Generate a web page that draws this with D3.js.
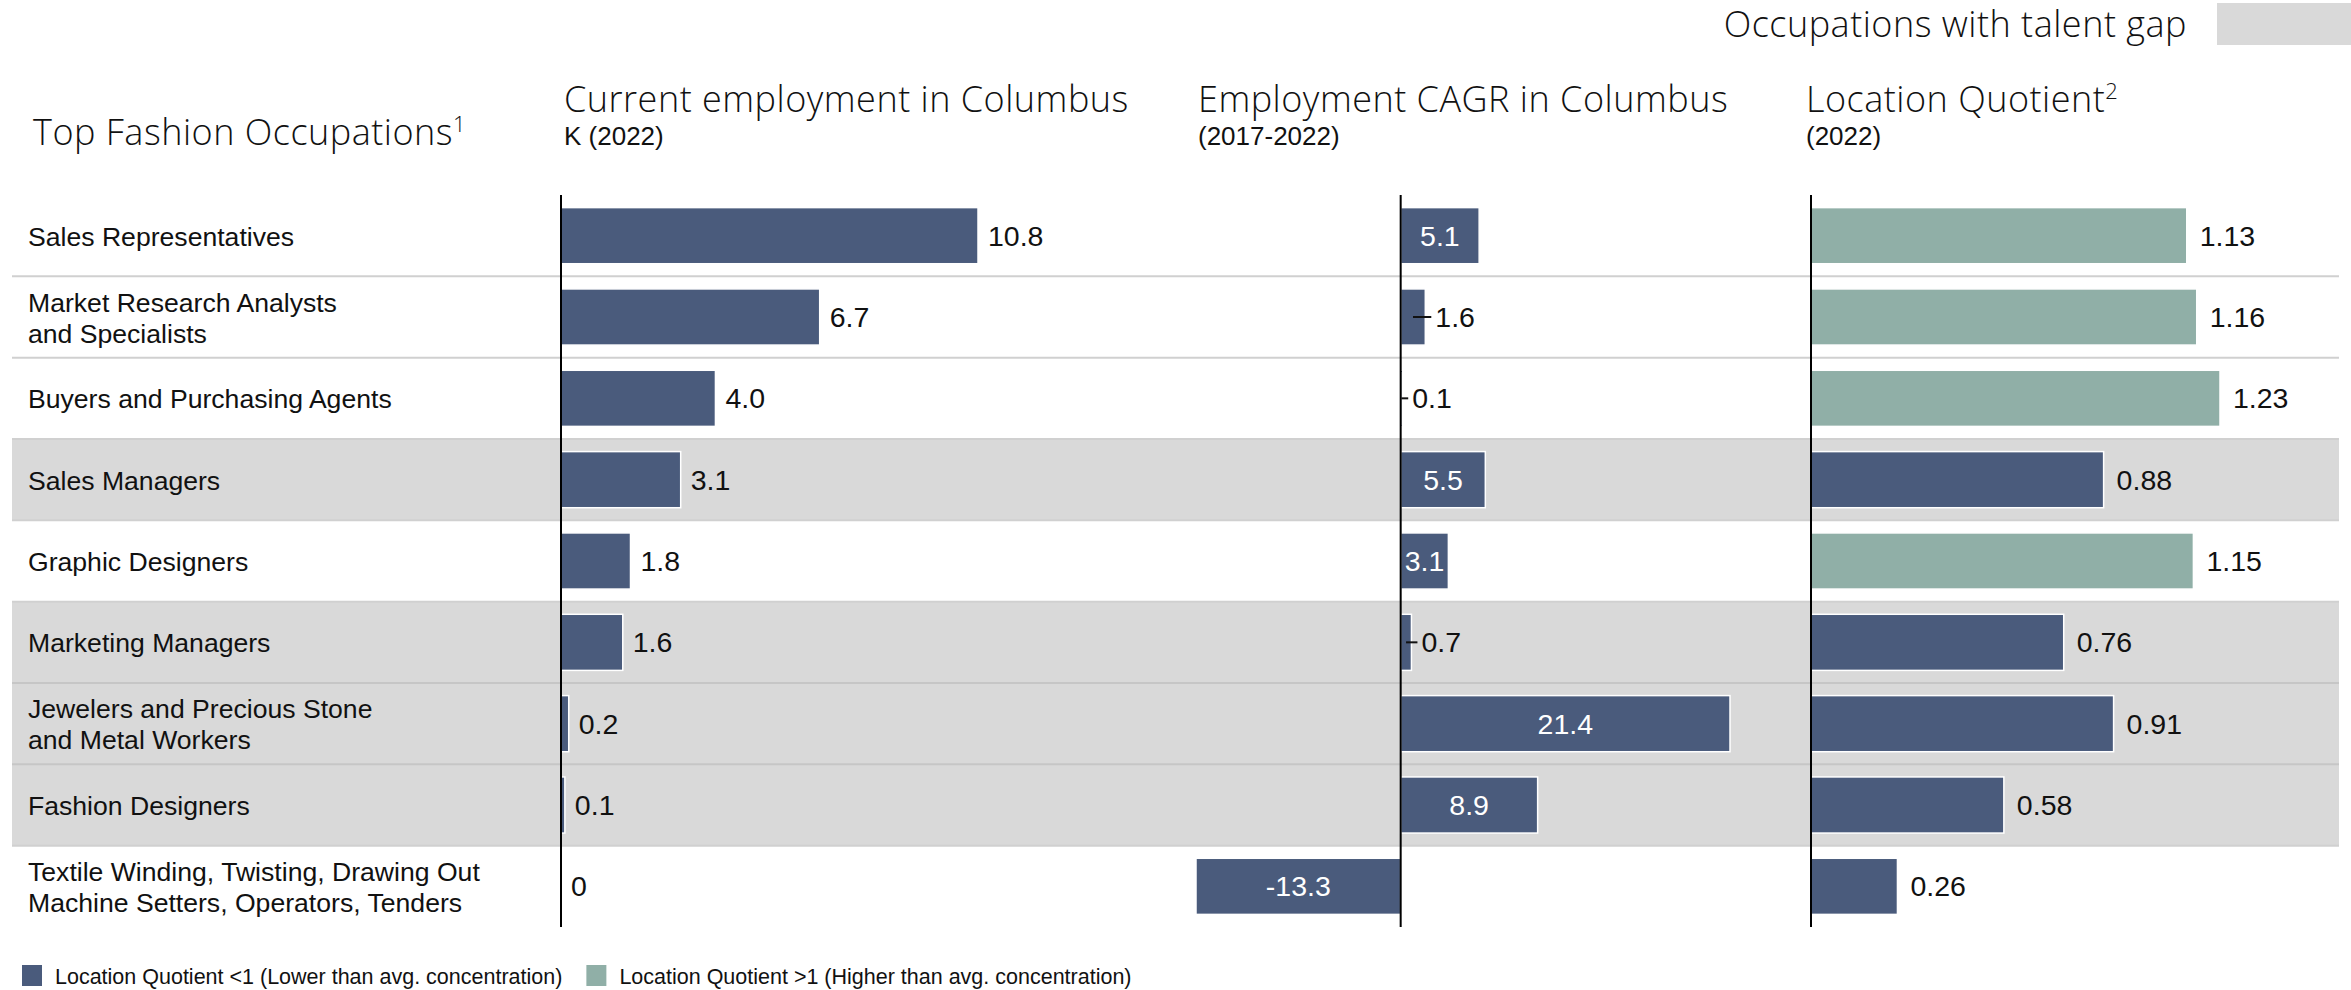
<!DOCTYPE html>
<html>
<head>
<meta charset="utf-8">
<script src="https://cdn.jsdelivr.net/npm/d3@7"></script>
<style>
  html, body { margin: 0; padding: 0; background: #ffffff; }
  svg { display: block; }
</style>
</head>
<body>
<svg id="chart" width="2351" height="990"></svg>
<script>
// Top fashion occupations in Columbus: employment, growth and location quotient
const occupations = [
  "Sales Representatives",
  "Market Research Analysts\nand Specialists",
  "Buyers and Purchasing Agents",
  "Sales Managers",
  "Graphic Designers",
  "Marketing Managers",
  "Jewelers and Precious Stone\nand Metal Workers",
  "Fashion Designers",
  "Textile Winding, Twisting, Drawing Out\nMachine Setters, Operators, Tenders"
];
const employmentK = [10.8, 6.7, 4.0, 3.1, 1.8, 1.6, 0.2, 0.1, 0];
const cagrPct = [5.1, 1.6, 0.1, 5.5, 3.1, 0.7, 21.4, 8.9, -13.3];
const locationQuotient = [1.13, 1.16, 1.23, 0.88, 1.15, 0.76, 0.91, 0.58, 0.26];
const talentGap = [false, false, false, true, false, true, true, true, false];

const legendItems = [
  { label: "Location Quotient <1 (Lower than avg. concentration)", key: "low" },
  { label: "Location Quotient >1 (Higher than avg. concentration)", key: "high" }
];

const COLOR_DARK = "#4a5b7c";
const COLOR_GREEN = "#90afa7";
const GAP_FILL = "#d9d9d9";
const HEAD_FONT = "'Open Sans', Lato, 'Noto Sans', sans-serif";
const HEAD_SIZE = "36px";
const HEAD_SPACING = "0.5px";
const BODY_FONT = "'Liberation Sans', Arial, sans-serif";

// Plain hyphen for negative numbers
const locale = d3.formatLocale({ decimal: ".", thousands: ",", grouping: [3], currency: ["", ""], minus: "-" });
const fmt1 = locale.format(".1f");
const fmt2 = locale.format(".2f");

const svg = d3.select("#chart");

const rows = occupations.map((name, i) => ({
  name, i,
  emp: employmentK[i],
  cagr: cagrPct[i],
  lq: locationQuotient[i],
  gap: talentGap[i]
}));

// Vertical layout shared by all three panels
const y = d3.scaleBand().domain(d3.range(rows.length)).range([195, 927]).paddingInner(0).paddingOuter(0);
const barH = y.bandwidth() * 0.69;
const yc = i => y(i) + y.bandwidth() / 2;

// Horizontal scales for each panel
const xEmp = d3.scaleLinear().domain([0, 10.8]).range([561, 978]);
const xCagr = d3.scaleLinear().domain([-13.3, 21.4]).range([1196, 1730]);
const xLq = d3.scaleLinear().domain([0, 1.23]).range([1811, 2220]);

// ---- Header legend: talent gap swatch
svg.append("text")
  .attr("x", 2187).attr("y", 37)
  .attr("text-anchor", "end")
  .style("font-family", HEAD_FONT).style("font-weight", 300)
  .style("font-size", HEAD_SIZE).style("letter-spacing", HEAD_SPACING).style("fill", "#111")
  .text("Occupations with talent gap");
svg.append("rect")
  .attr("x", 2217).attr("y", 3).attr("width", 134).attr("height", 42)
  .attr("fill", GAP_FILL);

// ---- Column headings
function heading(x, yBase, title, sup, sub) {
  const t = svg.append("text")
    .attr("x", x).attr("y", yBase)
    .style("font-family", HEAD_FONT).style("font-weight", 300)
    .style("font-size", HEAD_SIZE).style("letter-spacing", HEAD_SPACING).style("fill", "#111");
  t.append("tspan").text(title);
  if (sup) t.append("tspan").attr("dy", -13).style("font-size", "22px").text(sup);
  if (sub) {
    svg.append("text")
      .attr("x", x).attr("y", 145)
      .style("font-family", BODY_FONT).style("font-size", "26px").style("fill", "#111")
      .text(sub);
  }
}
heading(33, 145, "Top Fashion Occupations", "1", null);
heading(564, 112, "Current employment in Columbus", null, "K (2022)");
heading(1198, 112, "Employment CAGR in Columbus", null, "(2017-2022)");
heading(1806, 112, "Location Quotient", "2", "(2022)");

// ---- Row backgrounds for occupations with a talent gap
const rowX0 = 12, rowX1 = 2339;
svg.append("g").selectAll("rect")
  .data(rows.filter(d => d.gap))
  .join("rect")
  .attr("x", rowX0).attr("width", rowX1 - rowX0)
  .attr("y", d => y(d.i)).attr("height", y.bandwidth())
  .attr("fill", GAP_FILL);

// Row separators
svg.append("g").selectAll("line")
  .data(d3.range(1, rows.length))
  .join("line")
  .attr("x1", rowX0).attr("x2", rowX1)
  .attr("y1", i => y(i)).attr("y2", i => y(i))
  .attr("stroke", i => (rows[i].gap && rows[i - 1].gap) ? "#c6c6c6" : "#d0d0d0")
  .attr("stroke-width", 2);

// ---- Row labels
const labelG = svg.append("g")
  .style("font-family", BODY_FONT).style("font-size", "26.6px").style("fill", "#111");
rows.forEach(d => {
  const lines = d.name.split("\n");
  const t = labelG.append("text").attr("x", 28);
  lines.forEach((ln, k) => {
    const off = (k - (lines.length - 1) / 2) * 31;
    t.append("tspan").attr("x", 28).attr("y", yc(d.i) + off + 10).text(ln);
  });
});

// ---- Bars
function bars(key, x, colorFn) {
  const g = svg.append("g");
  g.selectAll("rect")
    .data(rows)
    .join("rect")
    .attr("x", d => x(Math.min(0, d[key])))
    .attr("width", d => Math.abs(x(d[key]) - x(0)))
    .attr("y", d => yc(d.i) - barH / 2)
    .attr("height", barH)
    .attr("fill", colorFn)
    .attr("stroke", "#ffffff")
    .attr("stroke-width", 1.5);
  return g;
}
bars("emp", xEmp, () => COLOR_DARK);
bars("cagr", xCagr, () => COLOR_DARK);
bars("lq", xLq, d => d.lq > 1 ? COLOR_GREEN : COLOR_DARK);

// ---- Value labels
const valG = svg.append("g")
  .style("font-family", BODY_FONT).style("font-size", "28.5px");

const fmtEmp = v => v === 0 ? "0" : fmt1(v);
valG.selectAll("text.emp")
  .data(rows).join("text").attr("class", "emp")
  .attr("x", d => xEmp(d.emp) + 10)
  .attr("y", d => yc(d.i) + 10)
  .attr("fill", "#111")
  .text(d => fmtEmp(d.emp));

// CAGR: large values sit inside the bar, small ones outside with a leader line
const inside = d => Math.abs(d.cagr) >= 3;
valG.selectAll("text.cagr")
  .data(rows).join("text").attr("class", "cagr")
  .attr("x", d => inside(d) ? (xCagr(d.cagr) + xCagr(0)) / 2 : xCagr(d.cagr) + 10)
  .attr("y", d => yc(d.i) + 10)
  .attr("text-anchor", d => inside(d) ? "middle" : "start")
  .attr("fill", d => inside(d) ? "#ffffff" : "#111")
  .text(d => fmt1(d.cagr));
svg.append("g").selectAll("line")
  .data(rows.filter(d => !inside(d)))
  .join("line")
  .attr("x1", d => (xCagr(d.cagr) + xCagr(0)) / 2)
  .attr("x2", d => xCagr(d.cagr) + 6)
  .attr("y1", d => yc(d.i)).attr("y2", d => yc(d.i))
  .attr("stroke", "#111").attr("stroke-width", 2);

valG.selectAll("text.lq")
  .data(rows).join("text").attr("class", "lq")
  .attr("x", d => xLq(d.lq) + 13)
  .attr("y", d => yc(d.i) + 10)
  .attr("fill", "#111")
  .text(d => fmt2(d.lq));

// ---- Zero axes
[xEmp, xCagr, xLq].forEach(x => {
  svg.append("line")
    .attr("x1", x(0)).attr("x2", x(0))
    .attr("y1", y.range()[0]).attr("y2", y.range()[1])
    .attr("stroke", "#000").attr("stroke-width", 2);
});

// ---- Bottom legend
const lg = svg.append("g")
  .style("font-family", BODY_FONT).style("font-size", "21.5px");
let lx = 22;
legendItems.forEach(item => {
  lg.append("rect")
    .attr("x", lx).attr("y", 965).attr("width", 20).attr("height", 21)
    .attr("fill", item.key === "high" ? COLOR_GREEN : COLOR_DARK);
  const t = lg.append("text")
    .attr("x", lx + 33).attr("y", 984).attr("fill", "#111")
    .text(item.label);
  lx = lx + 33 + t.node().getComputedTextLength() + 24;
});
</script>
</body>
</html>
